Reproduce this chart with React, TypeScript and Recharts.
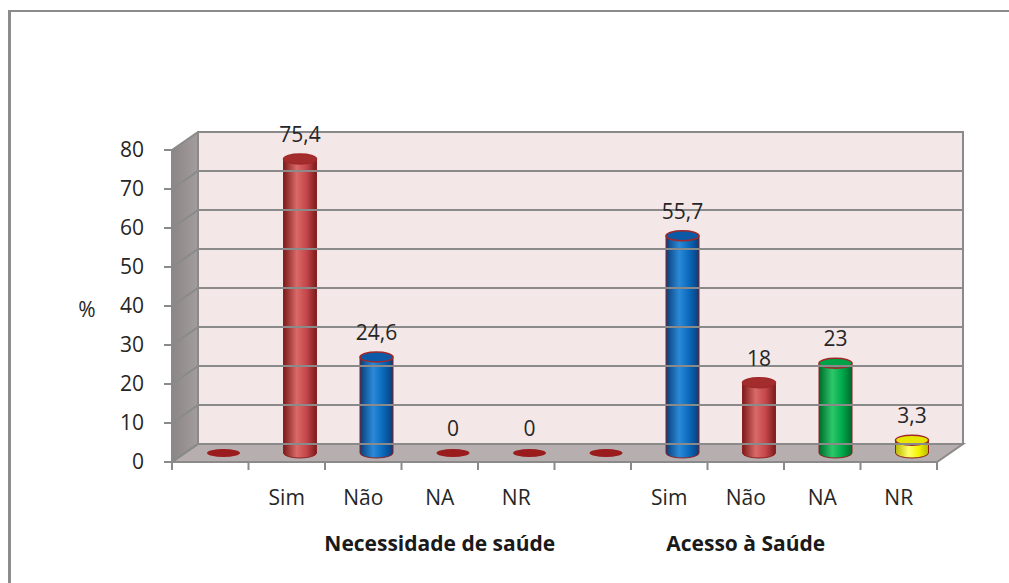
import React from 'react';
import {
  BarChart,
  Bar,
  XAxis,
  YAxis,
  ReferenceArea,
  ReferenceLine,
  LabelList,
} from 'recharts';

// Two question blocks, each led by an empty slot (drawn as a flat disk, no label).
const categories = ['', 'Sim', 'Não', 'NA', 'NR', '', 'Sim', 'Não', 'NA', 'NR'];
const values = [0, 75.4, 24.6, 0, 0, 0, 55.7, 18, 23, 3.3];
const barColors = ['red', 'red', 'blue', 'red', 'red', 'red', 'blue', 'red', 'green', 'yellow'];
const groupNames = ['', '', '', 'Necessidade de saúde', '', '', '', 'Acesso à Saúde', '', ''];
const yTicks = [0, 10, 20, 30, 40, 50, 60, 70, 80];

const data = categories.map((c, i) => ({ name: c, value: values[i] }));

// fake 3D depth of the Excel box
const DX = 26;
const DY = 18;
const FONT = '"Open Sans", sans-serif';
const GRID = '#8a8a8a';

const palette: Record<string, { edge: string; mid: string; light: string; top: string }> = {
  red: { edge: '#7c1b1a', mid: '#c4464a', light: '#d96a68', top: '#a32c2c' },
  blue: { edge: '#0b3d78', mid: '#0a68bb', light: '#2a8ad8', top: '#0c5aa6' },
  green: { edge: '#006a2c', mid: '#00aa4c', light: '#2cc86a', top: '#00a347' },
  yellow: { edge: '#b8b800', mid: '#f4f400', light: '#ffff66', top: '#e6e600' },
};

const Cylinder = (props: any) => {
  const { x, y, width, height, index } = props;
  const p = palette[barColors[index]];
  const rx = width / 2;
  const ry = 5;
  const cx = x + width / 2 + DX / 2;
  const base = y + height - DY / 2;
  const top = y - DY / 2;
  if (!height || height < 1) {
    return <ellipse cx={cx} cy={base} rx={rx} ry={4} fill="#9a1c1c" />;
  }
  const id = `cyl-${index}`;
  return (
    <g>
      <defs>
        <linearGradient id={id} x1="0" y1="0" x2="1" y2="0">
          <stop offset="0" stopColor={p.edge} />
          <stop offset="0.4" stopColor={p.light} />
          <stop offset="0.7" stopColor={p.mid} />
          <stop offset="1" stopColor={p.edge} />
        </linearGradient>
      </defs>
      <path
        d={`M${cx - rx},${top} L${cx - rx},${base} A${rx},${ry} 0 0 0 ${cx + rx},${base} L${cx + rx},${top} Z`}
        fill={`url(#${id})`}
        stroke="#8b2222"
        strokeWidth={1}
      />
      <ellipse cx={cx} cy={top} rx={rx} ry={ry} fill={p.top} stroke="#a02828" strokeWidth={1.5} />
    </g>
  );
};

const ValueLabel = (props: any) => {
  const { x, y, width, value, index } = props;
  if (categories[index] === '') return null;
  return (
    <text
      x={x + width / 2 + DX / 2}
      y={y - DY / 2 - 17}
      textAnchor="middle"
      fontFamily={FONT}
      fontSize={21}
      fill="#262626"
    >
      {String(value).replace('.', ',')}
    </text>
  );
};

const Box = (props: any) => {
  const { x, y, width, height } = props;
  const L = x;
  const R = x + width;
  const T = y;
  const B = y + height;
  return (
    <g>
      <defs>
        <linearGradient id="sidewall" x1="0" y1="0" x2="1" y2="0">
          <stop offset="0" stopColor="#8c8585" />
          <stop offset="1" stopColor="#a39d9d" />
        </linearGradient>
      </defs>
      <polygon
        points={`${L},${T} ${L + DX},${T - DY} ${L + DX},${B - DY} ${L},${B}`}
        fill="url(#sidewall)"
        stroke={GRID}
        strokeWidth={1}
      />
      <rect x={L + DX} y={T - DY} width={width} height={height} fill="#f4e7e7" stroke={GRID} strokeWidth={2} />
      <polygon
        points={`${L},${B} ${R},${B} ${R + DX},${B - DY} ${L + DX},${B - DY}`}
        fill="#b7afaf"
        stroke={GRID}
        strokeWidth={2}
      />
    </g>
  );
};

const GridLine = (props: any) => {
  const { x1, y1, x2 } = props;
  return (
    <g>
      <line x1={x1} y1={y1} x2={x1 + DX} y2={y1 - DY} stroke={GRID} strokeWidth={2} />
      <line x1={x1 + DX} y1={y1 - DY} x2={x2 + DX} y2={y1 - DY} stroke={GRID} strokeWidth={2} />
    </g>
  );
};

const CategoryTick = (props: any) => {
  const { x, y, payload, index } = props;
  const off = payload && payload.offset ? payload.offset : 38.25;
  return (
    <g>
      <line x1={x - off} y1={y} x2={x - off} y2={y + 8} stroke={GRID} strokeWidth={2} />
      {index === categories.length - 1 && (
        <line x1={x + off} y1={y} x2={x + off} y2={y + 8} stroke={GRID} strokeWidth={2} />
      )}
      <text x={x} y={y + 43} textAnchor="middle" fontFamily={FONT} fontSize={21} fill="#262626">
        {categories[index]}
      </text>
      {groupNames[index] && (
        <text
          x={x}
          y={y + 89}
          textAnchor="middle"
          fontFamily={FONT}
          fontSize={21}
          fontWeight="bold"
          fill="#1a1a1a"
        >
          {groupNames[index]}
        </text>
      )}
    </g>
  );
};

const PercentLabel = (props: any) => {
  const vb = props.viewBox || { x: 104, y: 142, width: 60, height: 312 };
  return (
    <text
      x={vb.x - 25}
      y={vb.y + vb.height / 2 + 11}
      textAnchor="middle"
      fontFamily={FONT}
      fontSize={21}
      fill="#262626"
    >
      %
    </text>
  );
};

export default function App() {
  // fixed so the page never grows scrollbars; coordinates are page pixels
  return (
    <div style={{ position: 'fixed', left: 0, top: 0, width: 1009, height: 583, overflow: 'hidden', background: '#fff' }}>
      {/* chart frame: only its top and left edges fall inside the picture */}
      <div style={{ position: 'absolute', left: 8, top: 10, width: 1001, height: 2, background: '#8c8c8c' }} />
      <div style={{ position: 'absolute', left: 8, top: 10, width: 3, height: 573, background: '#8c8c8c' }} />
      <div style={{ position: 'absolute', left: 8, top: 8 }}>
        <BarChart
          width={1001}
          height={575}
          data={data}
          margin={{ top: 142, right: 72, bottom: 91, left: 104 }}
          barSize={33}
        >
          <ReferenceArea y1={0} y2={80} shape={Box} ifOverflow="visible" />
          {yTicks.map((t) => (
            <ReferenceLine key={t} y={t} shape={GridLine} ifOverflow="visible" />
          ))}
          <XAxis
            dataKey="name"
            interval={0}
            axisLine={false}
            tickLine={false}
            tickSize={0}
            tickMargin={0}
            height={30}
            tick={CategoryTick}
          />
          <YAxis
            domain={[0, 80]}
            ticks={yTicks}
            width={60}
            tickSize={8}
            tickMargin={20}
            axisLine={{ stroke: GRID, strokeWidth: 2 }}
            tickLine={{ stroke: GRID, strokeWidth: 2 }}
            tick={{ fontFamily: FONT, fontSize: 21, fill: '#262626' }}
            label={{ content: PercentLabel }}
          />
          <Bar dataKey="value" shape={Cylinder} isAnimationActive={false}>
            <LabelList dataKey="value" content={ValueLabel} />
          </Bar>
        </BarChart>
      </div>
    </div>
  );
}
